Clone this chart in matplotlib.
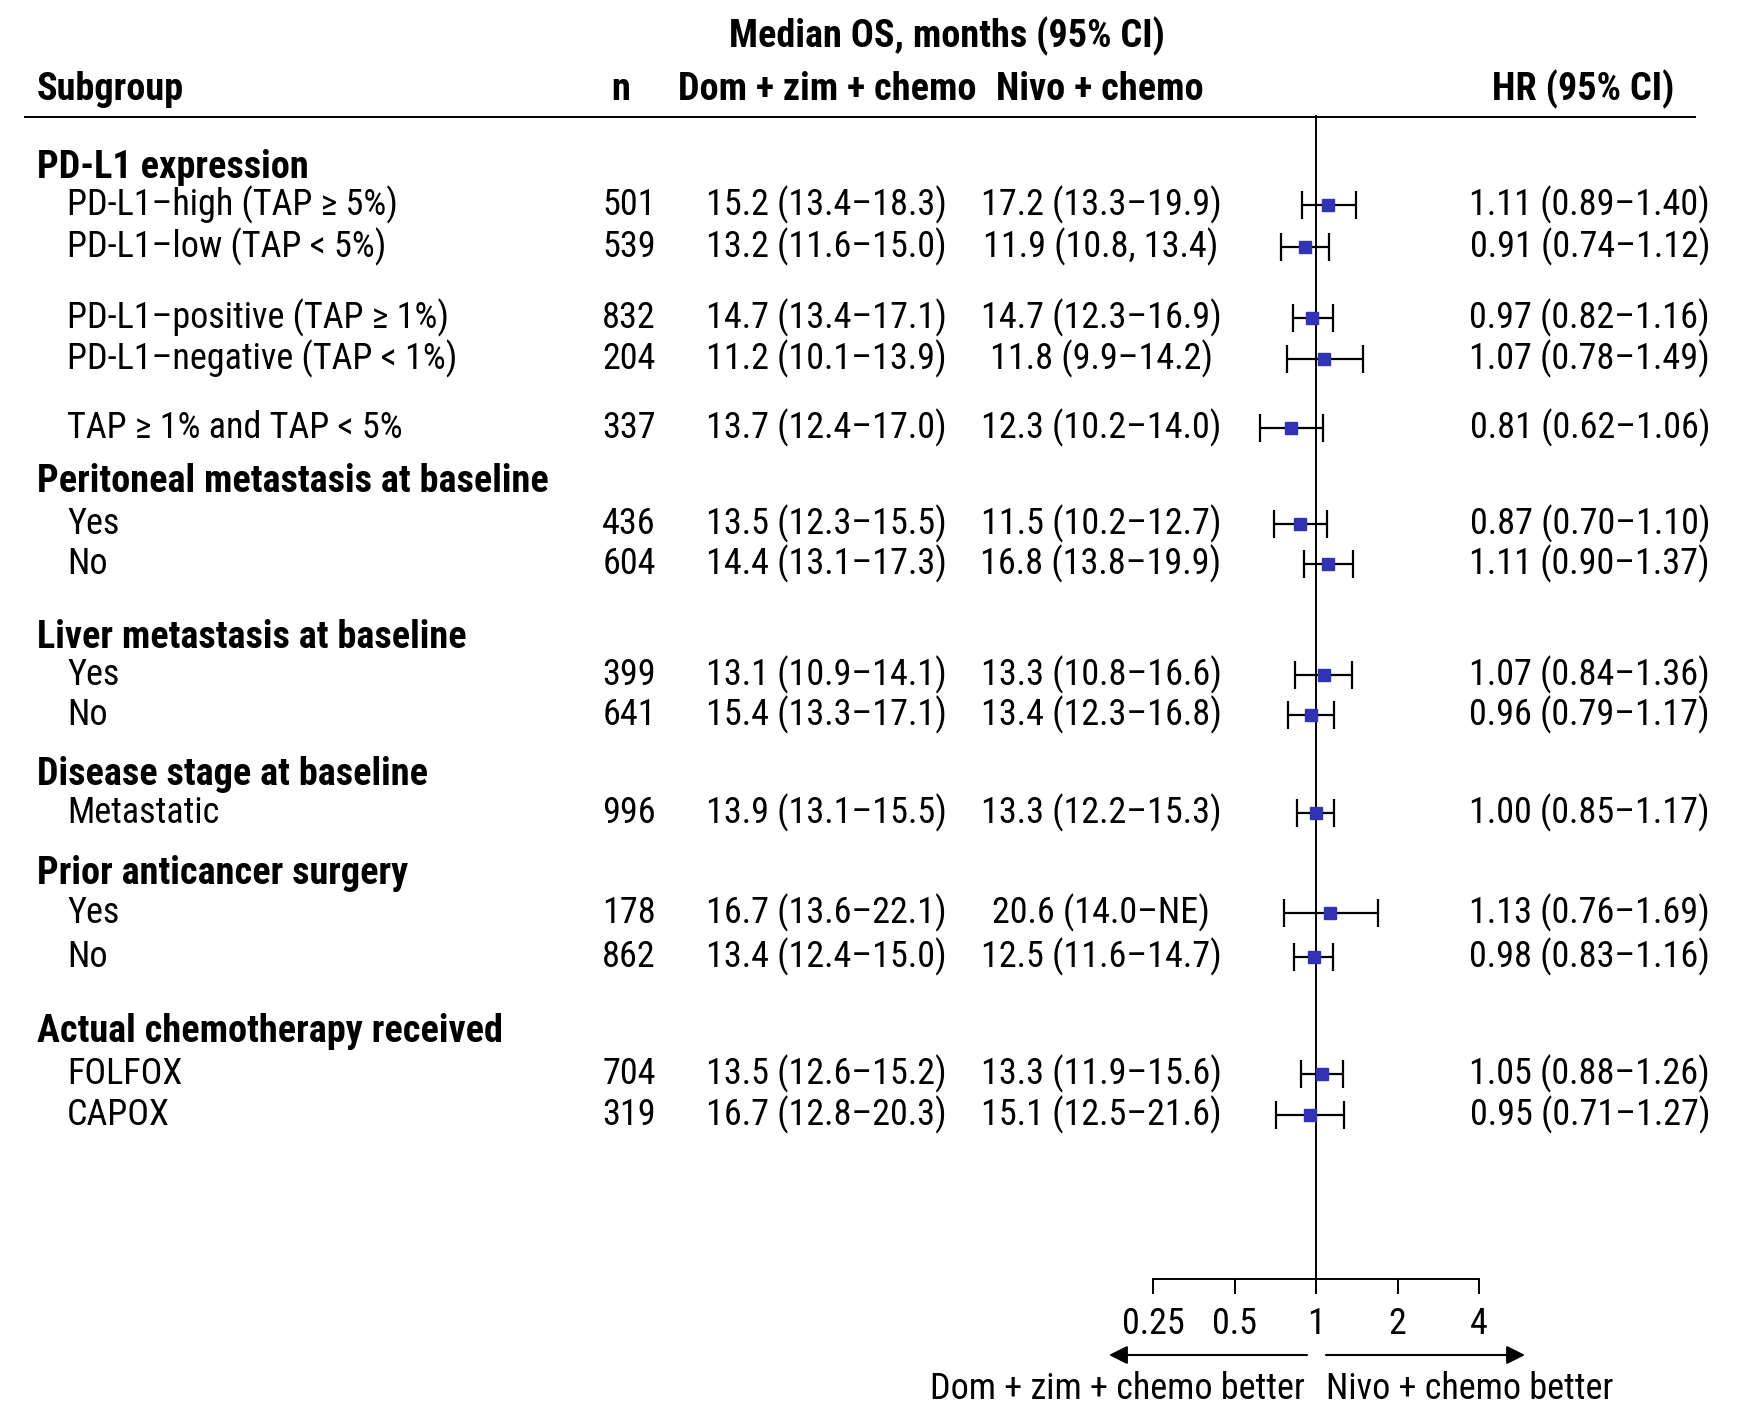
import matplotlib
matplotlib.use("Agg")
import matplotlib.pyplot as plt
import matplotlib.transforms as mtransforms

plt.rcParams['font.family'] = ['Roboto Condensed', 'Liberation Sans', 'DejaVu Sans']

# subgroup table
labels = ["PD-L1 expression",
          "PD-L1\u2013high (TAP \u2265 5%)", "PD-L1\u2013low (TAP < 5%)",
          "PD-L1\u2013positive (TAP \u2265 1%)", "PD-L1\u2013negative (TAP < 1%)",
          "TAP \u2265 1% and TAP < 5%",
          "Peritoneal metastasis at baseline", "Yes", "No",
          "Liver metastasis at baseline", "Yes", "No",
          "Disease stage at baseline", "Metastatic",
          "Prior anticancer surgery", "Yes", "No",
          "Actual chemotherapy received", "FOLFOX", "CAPOX"]
is_header = [True, False, False, False, False, False,
             True, False, False, True, False, False,
             True, False, True, False, False, True, False, False]
n_pts = [None, 501, 539, 832, 204, 337, None, 436, 604, None, 399, 641,
         None, 996, None, 178, 862, None, 704, 319]
dom_os = [None, "15.2 (13.4\u201318.3)", "13.2 (11.6\u201315.0)", "14.7 (13.4\u201317.1)",
          "11.2 (10.1\u201313.9)", "13.7 (12.4\u201317.0)", None,
          "13.5 (12.3\u201315.5)", "14.4 (13.1\u201317.3)", None,
          "13.1 (10.9\u201314.1)", "15.4 (13.3\u201317.1)", None,
          "13.9 (13.1\u201315.5)", None, "16.7 (13.6\u201322.1)", "13.4 (12.4\u201315.0)",
          None, "13.5 (12.6\u201315.2)", "16.7 (12.8\u201320.3)"]
nivo_os = [None, "17.2 (13.3\u201319.9)", "11.9 (10.8, 13.4)", "14.7 (12.3\u201316.9)",
           "11.8 (9.9\u201314.2)", "12.3 (10.2\u201314.0)", None,
           "11.5 (10.2\u201312.7)", "16.8 (13.8\u201319.9)", None,
           "13.3 (10.8\u201316.6)", "13.4 (12.3\u201316.8)", None,
           "13.3 (12.2\u201315.3)", None, "20.6 (14.0\u2013NE)", "12.5 (11.6\u201314.7)",
           None, "13.3 (11.9\u201315.6)", "15.1 (12.5\u201321.6)"]
hr = [None, 1.11, 0.91, 0.97, 1.07, 0.81, None, 0.87, 1.11, None, 1.07, 0.96,
      None, 1.00, None, 1.13, 0.98, None, 1.05, 0.95]
hr_lo = [None, 0.89, 0.74, 0.82, 0.78, 0.62, None, 0.70, 0.90, None, 0.84, 0.79,
         None, 0.85, None, 0.76, 0.83, None, 0.88, 0.71]
hr_hi = [None, 1.40, 1.12, 1.16, 1.49, 1.06, None, 1.10, 1.37, None, 1.36, 1.17,
         None, 1.17, None, 1.69, 1.16, None, 1.26, 1.27]
ticks = [0.25, 0.5, 1, 2, 4]
tick_labels = ["0.25", "0.5", "1", "2", "4"]

# vertical placement of each row (pixels from top)
row_y = [167, 205, 247, 318, 359, 428, 481, 524, 564, 637, 675, 715,
         774, 813, 873, 913, 957, 1031, 1074, 1115]

W, H = 1752, 1409
fig = plt.figure(figsize=(W / 100, H / 100), dpi=100)

def fx(px):
    return px / W

def fy(py):
    return 1 - py / H

# forest panel: x from 0.25 to 4 on a log scale
ax_l, ax_r, ax_t, ax_b = 1153, 1479, 115, 1279
ax = fig.add_axes([fx(ax_l), fy(ax_b), (ax_r - ax_l) / W, (ax_b - ax_t) / H])
ax.set_xscale('log')
ax.set_xlim(0.25, 4)
ax.set_ylim(ax_b, ax_t)
ax.patch.set_visible(False)
for s in ['top', 'left', 'right']:
    ax.spines[s].set_visible(False)
ax.spines['bottom'].set_linewidth(1.4)
ax.set_yticks([])
ax.set_xticks(ticks)
ax.set_xticklabels(tick_labels)
ax.minorticks_off()
fs = 26
fs_b = 27.5
ax.tick_params(axis='x', length=10.5, width=1.4, pad=9, labelsize=fs)
ax.axvline(1, color='black', lw=1.4)

blue = '#3232B4'
for i in range(len(labels)):
    if hr[i] is None:
        continue
    ax.errorbar(hr[i], row_y[i], xerr=[[hr[i] - hr_lo[i]], [hr_hi[i] - hr[i]]],
                fmt='none', ecolor='black', elinewidth=1.6, capsize=10, capthick=1.6)
    ax.plot(hr[i], row_y[i], marker='s', ms=8.8, color=blue, mec=blue, ls='none', zorder=3)

# table text: figure x, row y
trans = mtransforms.blended_transform_factory(fig.transFigure, ax.transData)
for i, lab in enumerate(labels):
    y = row_y[i]
    if is_header[i]:
        fig.text(fx(37), y, lab, transform=trans, fontsize=fs_b, fontweight='bold',
                 va='center', ha='left')
        continue
    fig.text(fx(67), y, lab, transform=trans, fontsize=fs, va='center', ha='left')
    fig.text(fx(656), y, str(n_pts[i]), transform=trans, fontsize=fs, va='center', ha='right')
    fig.text(fx(826), y, dom_os[i], transform=trans, fontsize=fs, va='center', ha='center')
    fig.text(fx(1101), y, nivo_os[i], transform=trans, fontsize=fs, va='center', ha='center')
    fig.text(fx(1710), y, "%.2f (%.2f\u2013%.2f)" % (hr[i], hr_lo[i], hr_hi[i]),
             transform=trans, fontsize=fs, va='center', ha='right')

# column headers
fig.text(fx(947), fy(36), "Median OS, months (95% CI)", fontsize=fs_b, fontweight='bold',
         ha='center', va='center')
fig.text(fx(37), fy(89), "Subgroup", fontsize=fs_b, fontweight='bold', ha='left', va='center')
fig.text(fx(621), fy(89), "n", fontsize=fs_b, fontweight='bold', ha='center', va='center')
fig.text(fx(827), fy(89), "Dom + zim + chemo", fontsize=fs_b, fontweight='bold',
         ha='center', va='center')
fig.text(fx(1100), fy(89), "Nivo + chemo", fontsize=fs_b, fontweight='bold',
         ha='center', va='center')
fig.text(fx(1674), fy(89), "HR (95% CI)", fontsize=fs_b, fontweight='bold',
         ha='right', va='center')
fig.add_artist(plt.Line2D([fx(25), fx(1695)], [fy(117), fy(117)], color='black', lw=1.4))

# direction arrows under the axis
arrow = dict(arrowstyle='-|>', mutation_scale=28, lw=1.5, color='black',
             shrinkA=0, shrinkB=0)
fig.add_artist(plt.Annotation('', xy=(fx(1109), fy(1355)), xytext=(fx(1307), fy(1355)),
                              xycoords='figure fraction', textcoords='figure fraction',
                              arrowprops=arrow))
fig.add_artist(plt.Annotation('', xy=(fx(1525), fy(1355)), xytext=(fx(1326), fy(1355)),
                              xycoords='figure fraction', textcoords='figure fraction',
                              arrowprops=arrow))
fig.text(fx(1305), fy(1389), "Dom + zim + chemo better", fontsize=fs, ha='right', va='center')
fig.text(fx(1326), fy(1389), "Nivo + chemo better", fontsize=fs, ha='left', va='center')

fig.savefig("out.png", dpi=100, facecolor='white')
